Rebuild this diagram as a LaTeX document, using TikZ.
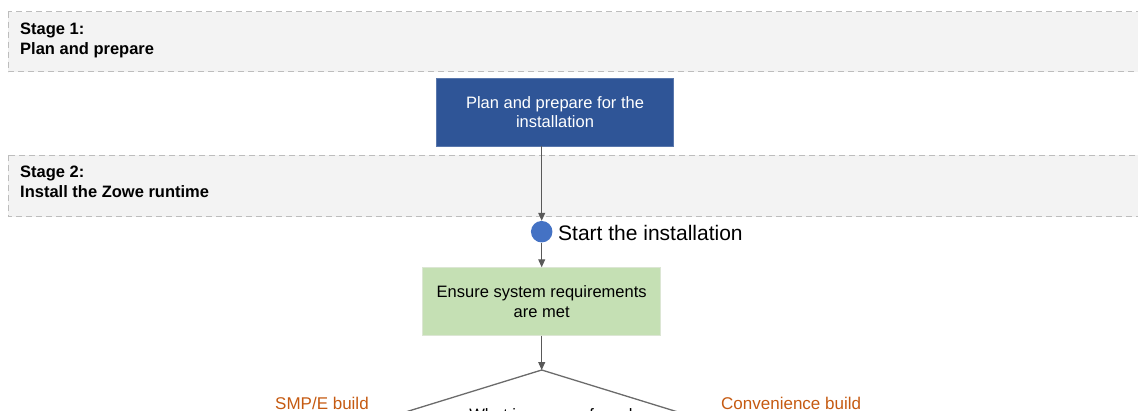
\documentclass[tikz,border=0pt]{standalone}
\usepackage{fontspec}
\setmainfont{Liberation Sans}
\usetikzlibrary{shapes.geometric,arrows.meta}
\definecolor{bandfill}{HTML}{F3F3F3}
\definecolor{banddash}{HTML}{BDBDBD}
\definecolor{planblue}{HTML}{2F5597}
\definecolor{startblue}{HTML}{4472C4}
\definecolor{reqgreen}{HTML}{C5E0B4}
\definecolor{reqedge}{HTML}{DCE6D4}
\definecolor{linegray}{HTML}{595959}
\definecolor{diagray}{HTML}{6B6B6B}
\definecolor{buildorange}{HTML}{C55A11}
\tikzset{
  band/.style={fill=bandfill, draw=banddash, line width=1pt, dash pattern=on 6pt off 4pt},
  bandlabel/.style={anchor=north west, inner sep=0pt, align=left, font=\fontsize{16.5}{20}\selectfont\bfseries},
  boxtext/.style={align=center, font=\fontsize{16.5}{19.5}\selectfont, inner sep=0pt},
  flow/.style={draw=linegray, line width=1pt, -{Triangle[length=8pt,width=7pt]}},
  buildlabel/.style={anchor=base west, inner sep=0pt, text=buildorange, font=\fontsize{17}{20}\selectfont}
}
\begin{document}
\begin{tikzpicture}[x=1pt,y=-1pt]
\useasboundingbox (0,0) rectangle (1138,410);
\clip (0,0) rectangle (1138,410);
% stage bands
\path[band] (8,11.7) rectangle (1150,71.7);
\path[band] (8,155) rectangle (1150,216.7);
\node[bandlabel] (s1) at (20,22.5) {Stage 1:\\Plan and prepare};
\node[bandlabel] (s2) at (20,165.5) {Stage 2:\\Install the Zowe runtime};
% plan box
\node[boxtext, fill=planblue, draw=planblue!80!white, line width=0.6pt, text=white,
      minimum width=236.6, minimum height=67.7] (plan) at (555,112.2)
      {Plan and prepare for the\\installation};
% start circle
\node[circle, fill=startblue, inner sep=0pt, minimum size=21.5] (start) at (541.7,231.7) {};
\node[anchor=base west, inner sep=0pt, font=\fontsize{21}{24}\selectfont] (startlbl) at (558,240) {Start the installation};
% requirements box
\node[boxtext, fill=reqgreen, draw=reqedge, line width=1pt,
      minimum width=238, minimum height=67.3] (req) at (541.7,301.4)
      {Ensure system requirements\\are met};
% decision diamond
\node[diamond, draw=diagray, line width=1.3pt, inner sep=0pt, outer sep=0pt,
      minimum width=480, minimum height=148, anchor=north] (dec) at (541.7,370) {};
\node[anchor=base, inner sep=0pt, font=\fontsize{16.5}{19.5}\selectfont] (q) at (551,420.5) {What is your preferred};
% build labels
\node[buildlabel] (smpe) at (275,409.5) {SMP/E build};
\node[buildlabel] (conv) at (721,409.5) {Convenience build};
% connectors
\draw[flow] (start |- plan.south) -- (start.north);
\draw[flow] (start.south) -- (start |- req.north);
\draw[flow] (req.south) -- (dec.north);
\end{tikzpicture}
\end{document}
